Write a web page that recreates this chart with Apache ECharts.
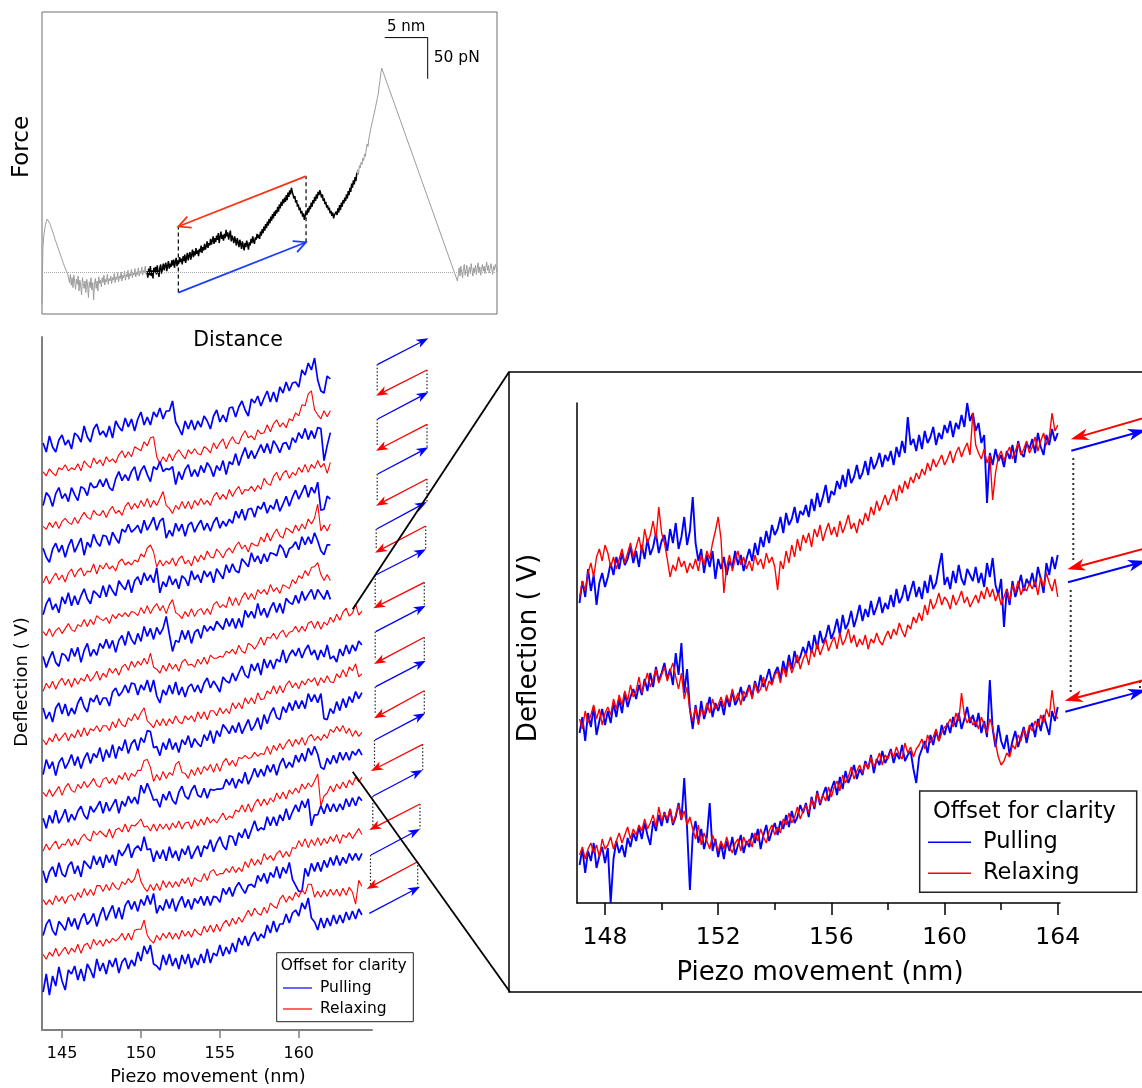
<!DOCTYPE html>
<html>
<head>
<meta charset="utf-8">
<title>Pulling and relaxing cycles</title>
<script src="https://cdn.jsdelivr.net/npm/echarts@6/dist/echarts.min.js"></script>
<style>
  html, body { margin: 0; padding: 0; background: #ffffff; }
  #chart { width: 1142px; height: 1088px; }
</style>
</head>
<body>
<div id="chart"></div>
<script>
// ---------- Force–distance overview (nm, pN) ----------
const approachStart = 0.0, approachStep = 0.1;
const forceApproach = [-38,30,44,52,58,62,65,67,63,60,57,54,51,48,45,41,38,35,32,29,26,23,20,17,14,11,8,6,3,1,-2,
  -4,-12,-2,-15,-6,-18,-3,-10,-20,-8, -14,-4,-22,-9,-16,-27,-6,-13,-19,-10, -24,-8,-15,-30,-11,-18,-6,-21,-12,-33,
  -14,-7,-19,-10,-22,-5,-13,-9,-17,-6, -12,-3,-15,-8,-11,-2,-14,-7,-10,-4, -13,-6,-9,-1,-12,-5,-8,0,-11,-4,
  -7,1,-10,-3,-6,2,-9,-2,-5,3, -8,-1,-4,4,-6,0,-3,5,-5,1, -2,6,-4,2,-1,7,-3,3,0,8,-2,2];
const unfoldStart = 12.2, unfoldStep = 0.1;
const forceUnfold = [2,-6,5,-3,8,-4,3,-7,6,0, 7,-2,9,1,-5,6,10,-1,4,11, 3,9,12,2,8,14,5,11,7,15,
  9,16,6,13,18,8,15,11,19,13, 17,10,20,14,22,12,18,24,15,21, 25,16,22,28,19,26,21,30,23,27,
  20,29,25,33,24,31,27,35,28,32, 38,30,36,33,41,34,39,44,35,42, 37,45,40,48,36,43,50,41,46,39,
  47,42,52,44,49,40,46,51,38,45, 41,36,44,39,33,42,37,31,40,35, 29,38,33,27,36,31,39,34,28,37,
  33,41,36,44,38,35,43,40,47,42, 46,41,50,45,53,48,56,51,59,54, 62,57,65,60,68,63,71,66,74,69,
  76,72,80,74,83,78,86,81,89,84, 91,86,94,88,97,92,100,95,103,98, 96,90,93,85,88,80,83,76,79,72,
  75,68,72,64,69,74,70,78,73,81, 77,85,80,88,84,92,87,95,90,98, 94,100,96,91,95,87,90,83,86,79,
  82,76,79,72,75,69,73,66,70,68, 74,70,78,73,82,76,85,80,88,84, 91,87,95,90,99,94,103,98,108,103,
  112,107,116,111,121];
const riseStart = 36.6, riseStep = 0.1;
const forceRise = [121,125,119,130,127,134,131,139,136,144, 141,150,156,153,162,164,173,174,183,184,
  192,194,202,204,212,217,227,233,242,248];
const retractStart = 48.3, retractStep = 0.1;
const forceRetract = [-10,-2,6,-4,8,0,-6,5,10,-3, 4,9,-5,2,7,-1,11,3,-4,6, 1,9,-2,5,12,0,7,-3,4,10,
  2,8,-1,6,13,3,9,0,5,11, 4,-2,8,3,10,6,1];
// cycle window (nm) and the forces at which the pulling / relaxing arrows start and end (pN)
const cycleNm = [15.85, 30.7];
const pullArrowPn = [-24, 37];
const relaxArrowPn = [117, 56];
const scaleNm = 5, scalePn = 50;
const scaleAnchor = [39.84, 285];

// ---------- Repeated cycles, offset for clarity (mV, top to bottom) ----------
const cycleStart = 143.8, cycleStep = 0.2, cycleOffset = 26.8;
const pull1 = [4,-5,11,0,-5,7,12,2,7,-2, 14,11,5,21,10,5,18,23,12,16, 10,21,9,26,20,16,29,20,28,16, 28,35,22,30,22,35,30,39,28,36, 36,46,25,19,12,26,18,27,17,26, 20,31,26,18,31,37,25,32,25,39, 40,30,40,46,37,31,48,44,51,41, 49,56,45,55,45,60,54,65,56,64, 65,60,77,72,84,77,89,67,56,54, 71,68];
const relax1 = [2,-2,5,1,-2,6,4,9,3,6, 4,10,3,13,9,6,16,10,14,8, 17,12,15,11,19,23,16,22,17,27, 25,23,32,28,36,37,17,10,17,12, 20,13,20,24,19,15,24,20,25,20, 19,27,25,21,31,25,31,35,25,32, 37,31,30,38,43,36,38,34,44,40, 41,49,42,50,54,47,51,46,55,53, 61,58,69,68,80,83,64,59,55,63, 57,63];
const pull2 = [-5,8,4,-6,7,13,2,7,-1,13, 6,0,14,12,5,18,13,14,21,14, 22,13,10,22,29,20,26,20,29,34, 20,30,35,26,19,34,31,39,29,32, 31,34,16,29,21,31,36,24,31,24, 35,28,38,33,24,35,30,40,26,39, 36,47,35,45,53,42,50,42,49,56, 48,57,47,60,55,48,57,58,51,63, 58,68,62,72,61,70,62,73,72,40, 55,68];
const relax2 = [1,-2,5,0,6,-1,6,9,5,3, 10,4,10,15,10,8,17,13,12,17, 10,17,21,14,17,12,21,25,18,24, 19,27,21,29,20,27,22,29,36,22, 19,14,22,18,26,19,26,18,27,22, 29,23,27,22,31,35,28,33,28,38, 31,37,41,33,38,37,41,36,42,38, 49,44,42,51,55,47,54,57,49,55, 52,60,55,63,55,63,59,67,60,64, 54,65];
const pull3 = [6,-3,-8,5,11,2,9,-3,8,15, 2,9,16,-1,12,7,20,12,8,19, 18,9,22,16,11,25,22,30,22,25, 29,21,34,24,30,37,24,33,36,16, 24,18,31,23,30,18,29,32,22,29, 34,24,31,23,32,37,26,33,28,35, 31,43,36,45,34,45,46,37,48,45, 52,41,49,45,55,43,50,58,48,57, 64,55,62,69,57,67,61,72,44,45, 58,55];
const relax3 = [-2,5,-3,3,8,1,6,-1,8,12, 4,10,13,5,10,9,17,7,16,12, 18,12,15,10,19,22,16,19,16,21, 19,27,24,33,36,29,14,21,15,20, 17,23,15,22,25,17,21,15,25,19, 26,21,30,24,23,32,28,23,30,33, 28,35,39,32,36,29,38,36,35,44, 39,48,40,47,52,45,43,53,51,48, 56,50,57,52,62,57,63,77,50,56, 50,57];
const pull4 = [-7,4,10,-2,4,-5,11,4,15,2, 12,3,12,19,9,4,17,14,10,22, 11,23,17,12,27,22,18,28,15,27, 31,23,35,27,33,25,40,15,26,21, 32,23,29,19,32,29,22,37,28,33, 25,37,31,36,25,39,34,29,43,35, 44,37,35,49,45,41,55,46,52,44, 54,46,55,54,52,63,59,50,59,61, 66,58,71,63,71,64,75,67,57,53, 63,63];
const relax4 = [3,-1,6,-2,4,7,1,6,11,5, 3,10,8,15,8,15,10,19,16,14, 17,11,20,16,21,18,22,18,23,22, 19,27,21,29,21,27,31,24,29,21, 30,35,22,20,16,23,18,26,18,24, 26,20,26,20,30,33,27,30,27,38, 29,37,29,37,42,35,41,35,45,41, 45,40,50,43,47,41,50,48,46,55, 51,59,56,64,59,67,68,72,60,54, 60,54];
const pull5 = [5,-6,3,10,-1,-5,8,6,0,13, 5,14,-1,11,18,5,12,6,18,13, 22,13,21,9,21,26,16,30,22,17, 28,20,35,25,33,22,34,27,33,45, 27,10,21,19,31,22,31,18,29,32, 23,36,30,35,31,40,36,32,43,35, 43,33,43,34,51,44,50,43,58,46, 53,44,53,59,49,58,48,63,59,57, 66,58,70,61,67,72,62,72,67,62, 71,62];
const relax5 = [-3,5,0,7,-1,6,10,3,9,1, 10,4,10,7,14,7,11,17,8,15, 11,20,15,20,13,21,24,18,27,21, 27,23,30,24,35,21,19,15,23,17, 25,19,24,17,26,29,23,24,21,29, 24,31,24,33,30,30,32,31,37,35, 39,34,43,37,35,45,43,39,44,51, 43,51,50,55,49,55,58,51,56,57, 62,56,62,57,65,67,60,67,59,66, 63,71,66,74,68,76,80,72,75,84, 73,77];
const pull6 = [7,-4,3,-7,7,12,1,11,-1,7, 1,12,18,8,3,17,13,20,10,17, 17,9,23,27,19,23,30,22,32,31, 20,30,25,35,23,35,19,12,25,20, 30,21,33,20,28,18,28,31,23,30, 22,32,37,27,34,29,23,38,34,32, 42,34,42,49,40,37,51,44,52,40, 56,47,55,46,56,53,65,52,60,65, 59,67,57,65,70,60,65,55,65,58, 70,56,59,53,66,59,70,61,70,64, 74,70];
const relax6 = [2,-3,4,0,8,1,5,9,1,8, 4,12,5,14,6,13,11,16,10,16, 16,11,20,14,23,17,15,24,21,28, 22,29,34,21,18,14,22,16,23,16, 23,18,26,20,18,26,22,26,20,30, 23,30,22,31,31,26,34,28,33,28, 39,33,39,33,44,38,44,38,49,42, 43,51,48,56,48,56,49,57,61,54, 59,53,61,57,63,60,64,56,64,59, 66,60,59,68,64,72,65,75,71,78, 65,68];
const pull7 = [-6,9,0,7,-7,6,11,0,6,14, 3,12,0,10,16,5,15,11,21,7, 19,11,24,10,22,18,29,15,25,29, 18,31,26,38,37,21,22,13,26,19, 30,19,26,16,29,24,33,21,30,25, 22,34,28,38,25,38,32,44,40,35, 43,36,46,35,42,49,38,43,51,39, 54,45,55,61,51,49,62,56,66,58, 68,60,68,60,75,67,74,66,75,50, 49,60,55,67,58,70,61,72,66,77, 70,76];
const relax7 = [3,-1,6,-1,4,9,0,8,12,5, 3,11,7,14,8,12,17,10,8,16, 18,12,17,11,20,16,23,15,22,19, 25,25,35,36,28,14,21,15,24,17, 23,20,31,34,23,22,17,26,20,28, 21,29,25,31,23,32,24,33,37,30, 35,29,38,37,40,37,38,43,39,42, 41,49,41,50,45,52,46,52,56,49, 56,51,58,50,58,61,55,59,55,61, 57,66,63,69,64,70,62,67,59,65, 59,63];
const pull8 = [4,-6,7,-1,12,-1,5,13,0,8, 2,11,16,7,3,16,10,15,21,9, 20,11,17,23,9,21,16,26,19,25, 18,37,29,39,31,22,23,15,28,22, 31,22,18,30,36,26,23,32,37,27, 25,34,24,33,32,33,33,34,43,37, 44,34,43,39,50,38,45,54,45,53, 46,57,50,58,47,58,64,54,60,55, 67,60,69,61,74,67,76,68,55,53, 64,58,67,59,70,62,70,62,71,67, 73,67];
const relax8 = [-2,5,-1,4,8,0,5,4,10,3, 10,4,11,15,10,8,18,14,18,15, 12,20,11,19,21,17,25,17,24,23, 26,30,22,23,18,25,18,25,20,25, 19,26,21,28,20,26,27,20,29,23, 30,24,32,26,30,26,31,36,29,33, 31,39,37,44,37,45,37,45,50,43, 50,44,51,47,56,50,57,50,59,55, 61,56,65,60,66,62,68,75,43,53, 56,63,57,65,60,67,61,69,64,72, 67,72];
const pull9 = [5,-7,4,9,-1,13,2,-1,10,14, 2,10,-1,15,11,7,20,11,19,8, 21,13,21,10,26,20,25,32,18,27, 30,25,39,26,27,14,25,17,26,15, 29,18,25,15,27,21,30,17,24,30, 19,30,27,36,24,33,39,30,26,40, 39,30,43,38,47,37,46,55,45,48, 46,59,50,59,50,61,55,67,56,64, 71,64,75,68,77,50,61,61,70,62, 72,64,72,64,72,66,77,69,78,70, 79,75];
const relax9 = [3,-2,3,-2,7,1,6,-1,6,8, 2,10,5,14,7,13,7,17,17,11, 18,12,20,15,13,21,18,24,20,24, 34,21,15,11,18,12,19,12,22,15, 21,15,21,16,24,19,25,16,25,22, 21,29,22,31,33,27,29,29,34,30, 36,30,35,31,41,35,44,37,43,38, 49,43,47,42,49,52,45,51,46,55, 54,62,56,64,55,63,57,65,57,64, 59,66,61,68,59,68,65,70,64,69, 74,68];
const pull10 = [-6,5,10,-1,-6,8,4,-1,12,3, 11,0,10,16,5,9,16,3,14,22, 9,17,24,11,22,10,24,29,20,28, 18,30,24,34,25,36,16,24,19,30, 21,31,18,27,33,22,30,20,31,26, 33,24,33,24,33,32,27,41,35,42, 33,42,47,41,36,44,45,42,54,48, 56,46,57,52,63,51,62,56,67,50, 44,38,38,61,53,66,58,67,58,69, 62,72,64,74,64,72,66,76,69,76, 69,76];
const relax10 = [2,-3,4,0,8,0,5,9,2,8, 4,12,3,11,13,7,17,11,16,10, 17,13,18,15,18,23,16,23,16,26, 27,27,36,21,16,13,21,16,23,18, 24,17,23,17,26,20,25,19,27,23, 21,30,24,31,24,32,25,32,36,30, 38,32,39,34,40,46,40,48,43,41, 49,43,53,50,48,57,61,54,60,56, 64,59,67,62,72,72,59,65,59,66, 60,67,61,67,60,68,61,69,64,52, 76,70];
const pull11 = [-9,9,-12,7,-3,16,2,-7,13,9, 17,3,14,2,19,13,5,24,12,20, 9,23,16,25,10,21,25,14,23,17, 31,22,37,29,38,19,17,13,28,18, 29,17,25,14,28,19,29,15,25,18, 29,20,34,20,30,27,38,27,36,29, 40,31,45,38,47,37,46,51,42,49, 45,58,50,62,51,59,59,69,60,70, 73,67,80,74,85,65,61,53,65,55, 65,57,68,59,68,60,71,63,72,64, 74,68];
const cycleTicks = [145, 150, 155, 160];

// ---------- Three cycles, enlarged (mV, offset for clarity) ----------
const zoomStart = 147.1, zoomStep = 0.1, zoomOffset = 140;
const zoomPullTop = [-30,-8,-24,4,-18,-2,-32,-10,0,-14, -4,10,-2,16,4,20,8,14,26,10, 22,6,28,14,34,18,26,40,20,32, 38,22,44,30,50,24,36,56,28,42, 76,30,12,24,0,18,6,22,-6,14, 4,16,-2,12,6,22,8,18,2,14, 24,12,30,18,36,26,42,30,48,38, 44,56,40,60,48,54,66,50,62,58, 68,56,74,62,80,66,76,88,70,82, 78,92,84,98,86,104,90,96,108,94, 100,112,98,116,104,110,120,106,118,112, 122,108,126,116,132,120,156,128,134,122, 138,124,142,130,136,146,128,140,134,148, 140,152,136,150,144,158,146,170,152,160, 142,150,130,138,70,120,108,124,112,118, 106,122,114,128,110,132,120,116,130,124, 134,120,140,126,118,138,128,144,132,140];
const zoomRelaxTop = [-24,-8,-18,0,10,-4,16,24,12,28, 20,6,16,4,14,24,10,20,30,16, 26,36,20,44,30,38,52,34,66,40, 30,14,-4,8,2,16,6,12,0,10, 4,14,2,18,8,22,14,30,42,56, 34,-20,6,18,2,14,22,8,16,4, 12,2,18,8,14,4,20,10,16,6, -17,12,4,22,10,28,16,34,22,38, 30,40,26,44,36,48,32,42,50,38, 46,36,52,40,48,58,44,50,40,54, 48,60,52,66,58,72,62,70,78,68, 76,84,72,88,80,92,84,96,90,100, 94,104,98,110,102,114,106,112,118,108, 114,122,110,120,126,116,124,130,118,160, 128,120,114,124,110,118,73,100,116,122, 112,120,126,114,122,130,118,124,132,120, 126,136,122,132,140,128,136,160,142,148];
const zoomPullMid = [-20,-4,-28,0,-14,6,-22,-8,4,-12, 2,-10,10,-4,14,0,20,6,16,24, 14,28,18,34,22,40,26,46,32,40, 50,34,44,28,60,38,70,20,44,4, -16,8,-10,12,-6,4,16,-4,10,2, 12,-2,16,6,22,8,14,26,12,20, 28,16,32,22,38,26,34,44,30,40, 46,34,52,40,58,44,62,50,56,66, 58,72,60,78,64,82,70,76,88,74, 82,94,78,98,84,90,102,86,96,108, 92,104,96,112,98,106,116,100,110,104, 118,106,124,110,116,128,112,122,132,116, 126,114,132,120,138,124,130,146,160,128, 136,124,142,130,148,134,128,144,138,132, 146,130,140,126,150,136,155,128,118,134, 86,124,108,132,116,126,138,122,134,128, 140,126,146,134,120,150,138,156,144,158];
const zoomRelaxMid = [-6,-16,2,-10,-2,8,-6,4,-12,0, 6,-2,14,4,18,8,22,12,28,16, 22,36,20,30,40,26,34,44,30,38, 46,32,42,50,36,24,40,14,26,2, -8,6,-12,4,-2,10,0,14,4,8, 16,6,18,10,24,12,20,8,22,16, 26,14,30,20,24,36,22,32,28,38, 42,30,46,36,52,40,48,58,44,54, 60,48,64,56,70,58,66,74,62,70, 76,64,80,68,74,84,70,78,66,74, 68,78,64,74,70,80,72,68,76,82, 74,84,78,90,82,76,88,84,96,90, 100,92,108,98,114,104,110,120,108,116, 112,104,118,108,114,122,110,116,106,112, 118,110,122,114,126,116,124,112,120,108, 116,124,112,128,120,132,118,126,122,130, 124,132,118,136,126,140,130,122,134,116];
const zoomPullLow = [-12,4,-20,2,-8,10,-15,-3,6,-10, 5,-50,-6,12,0,8,-4,15,6,20, 12,26,14,30,18,8,32,22,38,27, 41,30,44,28,36,50,33,75,25,-37, 18,32,10,24,4,16,50,2,14,-4, 10,-6,12,2,16,-2,8,18,0,12, 6,20,10,24,4,18,28,12,22,30, 18,32,24,38,26,42,30,36,48,40, 50,36,56,44,62,48,58,66,52,64, 72,58,76,64,82,70,78,88,74,84, 78,92,84,98,80,94,88,102,90,96, 104,90,100,94,108,92,98,102,84,70, 96,104,112,100,118,108,122,112,128,118, 130,120,136,126,140,124,134,146,130,138, 126,140,120,132,116,173,124,106,128,112, 104,118,98,112,122,106,116,126,110,124, 130,116,134,122,138,128,118,142,132,146];
const zoomRelaxLow = [-2,6,-6,4,10,0,8,-4,14,4, 8,16,4,12,20,10,18,26,14,24, 18,28,22,34,24,30,38,26,46,32, 40,34,44,30,38,48,34,42,28,36, 24,14,28,8,20,12,4,18,10,2, 12,4,16,6,0,10,14,2,16,8, 14,6,20,12,24,16,10,22,28,18, 26,20,34,28,40,30,36,46,34,42, 48,40,54,46,60,50,58,52,66,56, 66,72,62,78,70,76,86,74,82,88, 80,90,84,96,86,92,100,88,98,94, 102,96,106,98,94,110,100,106,96,104, 108,114,104,118,110,116,124,112,120,126, 128,134,126,140,132,160,138,130,136,128, 132,124,136,128,120,134,126,110,96,88, 92,100,96,108,104,118,112,124,116,128, 122,132,126,138,130,144,136,163,140,134];
const zoomMajorTicks = [148, 152, 156, 160, 164];
const zoomMinorTicks = [150, 154, 158, 162];

// ---------- Styling and layout ----------
const FONT = 'DejaVu Sans';
const BLUE = '#0000ff', RED = '#ff0000';

const chart = echarts.init(document.getElementById('chart'), null, { renderer: 'canvas' });

const gridCommon = { containLabel: false, outerBoundsMode: 'none' };
const series = [];

const xyFrom = (start, step, vals, add) => vals.map((v, i) => [+(start + i * step).toFixed(3), v + (add || 0)]);

// overview trace: approach (gray), stretch and retract (gray), unfolding region (black)
series.push({
  type: 'line', xAxisIndex: 0, yAxisIndex: 0, symbol: 'none', silent: true,
  data: xyFrom(approachStart, approachStep, forceApproach),
  lineStyle: { color: '#9c9c9c', width: 1 },
  markLine: {
    silent: true, symbol: 'none', label: { show: false },
    lineStyle: { color: '#a8a8a8', width: 1, type: 'dotted' },
    data: [{ yAxis: 0 }]
  }
});
series.push({
  type: 'line', xAxisIndex: 0, yAxisIndex: 0, symbol: 'none', silent: true,
  data: xyFrom(riseStart, riseStep, forceRise).concat(xyFrom(retractStart, retractStep, forceRetract)),
  lineStyle: { color: '#9c9c9c', width: 1 }
});
series.push({
  type: 'line', xAxisIndex: 0, yAxisIndex: 0, symbol: 'none', silent: true,
  data: xyFrom(unfoldStart, unfoldStep, forceUnfold),
  lineStyle: { color: '#000000', width: 1.5 }
});

// stacked cycles, listed top to bottom
const cycleTraces = [
  ['Pulling', pull1], ['Relaxing', relax1], ['Pulling', pull2], ['Relaxing', relax2],
  ['Pulling', pull3], ['Relaxing', relax3], ['Pulling', pull4], ['Relaxing', relax4],
  ['Pulling', pull5], ['Relaxing', relax5], ['Pulling', pull6], ['Relaxing', relax6],
  ['Pulling', pull7], ['Relaxing', relax7], ['Pulling', pull8], ['Relaxing', relax8],
  ['Pulling', pull9], ['Relaxing', relax9], ['Pulling', pull10], ['Relaxing', relax10],
  ['Pulling', pull11]
];
cycleTraces.forEach(([kind, vals], idx) => {
  const level = cycleTraces.length - 1 - idx;
  const pulling = kind === 'Pulling';
  series.push({
    name: kind, type: 'line', xAxisIndex: 1, yAxisIndex: 1, symbol: 'none', silent: true,
    data: xyFrom(cycleStart, cycleStep, vals, level * cycleOffset),
    lineStyle: { color: pulling ? BLUE : RED, width: pulling ? 1.7 : 1.1 }
  });
});

// enlarged cycles (pulling drawn first, relaxing over it)
[[zoomPullTop, zoomRelaxTop, 2], [zoomPullMid, zoomRelaxMid, 1], [zoomPullLow, zoomRelaxLow, 0]].forEach(([p, r, lvl]) => {
  series.push({
    name: 'Pulling', type: 'line', xAxisIndex: 2, yAxisIndex: 2, symbol: 'none', silent: true,
    data: xyFrom(zoomStart, zoomStep, p, lvl * zoomOffset),
    lineStyle: { color: BLUE, width: 1.9 }
  });
  series.push({
    name: 'Relaxing', type: 'line', xAxisIndex: 2, yAxisIndex: 2, symbol: 'none', silent: true,
    data: xyFrom(zoomStart, zoomStep, r, lvl * zoomOffset),
    lineStyle: { color: RED, width: 1.4 }
  });
});

const option = {
  animation: false,
  backgroundColor: '#ffffff',
  textStyle: { fontFamily: FONT },
  grid: [
    Object.assign({ left: 42, top: 12, width: 455, height: 302, show: true, borderColor: '#6e6e6e', borderWidth: 1 }, gridCommon),
    Object.assign({ left: 42, top: 337, width: 330, height: 693 }, gridCommon),
    Object.assign({ left: 577, top: 403, width: 483, height: 500 }, gridCommon)
  ],
  xAxis: [
    { gridIndex: 0, type: 'value', min: 0, max: 52.9, show: false },
    {
      gridIndex: 1, type: 'value', position: 'bottom', min: 143.73, max: 164.64,
      axisLine: { show: true, onZero: false, lineStyle: { color: '#808080', width: 2 } },
      axisTick: { show: true, customValues: cycleTicks, length: 8, lineStyle: { color: '#808080', width: 1.5 } },
      axisLabel: { customValues: cycleTicks, color: '#000', fontSize: 16, fontFamily: FONT, margin: 16 },
      splitLine: { show: false }
    },
    {
      gridIndex: 2, type: 'value', position: 'bottom', min: 147.01, max: 164.08,
      axisLine: { show: true, onZero: false, lineStyle: { color: '#000', width: 1.5 } },
      axisTick: { show: true, customValues: zoomMajorTicks, length: 12, lineStyle: { color: '#000', width: 1.5 } },
      axisLabel: { customValues: zoomMajorTicks, color: '#000', fontSize: 23.5, fontFamily: FONT, margin: 23 },
      splitLine: { show: false }
    },
    {
      gridIndex: 2, type: 'value', position: 'bottom', offset: 0, min: 147.01, max: 164.08,
      axisLine: { show: false, onZero: false },
      axisTick: { show: true, customValues: zoomMinorTicks, length: 7, lineStyle: { color: '#000', width: 1.5 } },
      axisLabel: { show: false },
      splitLine: { show: false }
    }
  ],
  yAxis: [
    { gridIndex: 0, type: 'value', min: -50, max: 316, show: false },
    {
      gridIndex: 1, type: 'value', min: -47, max: 646,
      axisLine: { show: true, onZero: false, lineStyle: { color: '#808080', width: 2 } },
      axisTick: { show: false }, axisLabel: { show: false }, splitLine: { show: false }
    },
    {
      gridIndex: 2, type: 'value', min: -50, max: 450,
      axisLine: { show: true, onZero: false, lineStyle: { color: '#000', width: 1.5 } },
      axisTick: { show: false }, axisLabel: { show: false }, splitLine: { show: false }
    }
  ],
  series: series
};
chart.setOption(option);

// ---------- Annotations ----------
const els = [];
function seg(x1, y1, x2, y2, color, w, dash) {
  return { type: 'line', z: 100, silent: true, shape: { x1, y1, x2, y2 },
    style: { stroke: color, lineWidth: w, lineDash: dash || null } };
}
function arrow(x1, y1, x2, y2, color, o) {
  const dx = x2 - x1, dy = y2 - y1, L = Math.hypot(dx, dy), ux = dx / L, uy = dy / L;
  const bx = x2 - ux * o.len, by = y2 - uy * o.len;
  const lx = bx - uy * o.half, ly = by + ux * o.half, rx = bx + uy * o.half, ry = by - ux * o.half;
  if (o.open) {
    return [seg(x1, y1, x2, y2, color, o.w),
      { type: 'polyline', z: 100, silent: true, shape: { points: [[lx, ly], [x2, y2], [rx, ry]] },
        style: { stroke: color, lineWidth: o.w, fill: null } }];
  }
  const nx = x2 - ux * o.len * 0.72, ny = y2 - uy * o.len * 0.72;
  return [seg(x1, y1, nx, ny, color, o.w),
    { type: 'polygon', z: 100, silent: true, shape: { points: [[x2, y2], [lx, ly], [nx, ny], [rx, ry]] },
      style: { fill: color } }];
}
function label(x, y, s, size, align, rot) {
  return { type: 'text', z: 100, silent: true, x, y, rotation: rot || 0,
    style: { text: s, font: size + 'px "' + FONT + '"', fill: '#000',
      align: align || 'center', verticalAlign: 'middle',
      textAlign: align || 'center', textVerticalAlign: 'middle' } };
}
const P = (x, y) => chart.convertToPixel({ xAxisIndex: 0, yAxisIndex: 0 }, [x, y]);

// cycle window on the overview trace
const lowA = P(cycleNm[0], pullArrowPn[0]), lowB = P(cycleNm[0], relaxArrowPn[1]);
const highA = P(cycleNm[1], pullArrowPn[1]), highB = P(cycleNm[1], relaxArrowPn[0]);
els.push(seg(lowA[0], lowA[1], lowB[0], lowB[1], '#000', 1.2, [4, 3]));
els.push(seg(highA[0], highA[1], highB[0], highB[1], '#000', 1.2, [4, 3]));
els.push(...arrow(highB[0], highB[1], lowB[0], lowB[1], '#ff3216', { len: 12, half: 6, w: 1.8, open: true }));
els.push(...arrow(lowA[0], lowA[1], highA[0], highA[1], '#1c3cff', { len: 12, half: 6, w: 1.8, open: true }));

// scale bars
const sb0 = P(scaleAnchor[0], scaleAnchor[1]);
const sb1 = P(scaleAnchor[0] + scaleNm, scaleAnchor[1]);
const sb2 = P(scaleAnchor[0] + scaleNm, scaleAnchor[1] - scalePn);
els.push(seg(sb0[0], sb0[1], sb1[0], sb1[1], '#000', 1));
els.push(seg(sb1[0], sb1[1], sb2[0], sb2[1], '#000', 1));
els.push(label((sb0[0] + sb1[0]) / 2, sb0[1] - 10, scaleNm + ' nm', 15, 'center'));
els.push(label(sb1[0] + 6, (sb1[1] + sb2[1]) / 2, scalePn + ' pN', 15.5, 'left'));

// titles
els.push(label(22, 147, 'Force', 23, 'center', Math.PI / 2));
els.push(label(238, 341, 'Distance', 20.5, 'center'));
els.push(label(22, 682, 'Deflection ( V)', 18, 'center', Math.PI / 2));
els.push(label(208, 1077, 'Piezo movement (nm)', 17.7, 'center'));
els.push(label(529, 648, 'Deflection ( V)', 26.2, 'center', Math.PI / 2));
els.push(label(820, 973, 'Piezo movement (nm)', 26, 'center'));

// pulling / relaxing sequence beside the stacked cycles
const pullCol = [
  [377.7, 364.3, 428.3, 338.3], [377.7, 419, 428.3, 392.3], [377.7, 474, 428.3, 447.3],
  [376.7, 529, 426.7, 502], [375.7, 575, 426, 549.3], [375.7, 631.7, 425.7, 605.7],
  [375.7, 686.7, 425.7, 660.7], [375, 740, 425.3, 713.3], [373.3, 796, 422.7, 770],
  [371, 855, 420, 829], [369.3, 913.3, 420, 886.7]
];
const relaxCol = [
  [427, 370, 376, 395.7], [427, 424.3, 376, 450.7], [427, 479, 376, 505.7],
  [425.7, 526, 375, 552.7], [424.3, 582.3, 373.3, 608.3], [424.3, 637.3, 374, 664],
  [424.3, 690.7, 374, 718.3], [422.7, 744.3, 371, 771], [420, 804, 369.3, 830],
  [417.7, 861.7, 366.7, 889]
];
relaxCol.forEach((r, i) => {
  const b = pullCol[i], nb = pullCol[i + 1];
  els.push(seg(b[0] - 0.5, b[1], b[0] - 0.5, r[3] - 4, '#222', 1.2, [1.5, 2]));
  els.push(seg(r[0], r[1], r[0], nb[3], '#222', 1.2, [1.5, 2]));
});
pullCol.forEach(b => els.push(...arrow(b[0], b[1], b[2], b[3], BLUE, { len: 12, half: 4.5, w: 1.3 })));
relaxCol.forEach(r => els.push(...arrow(r[0], r[1], r[2], r[3], RED, { len: 12, half: 4.5, w: 1.3 })));

// enlarged-view frame and leader lines
els.push({ type: 'rect', z: 99, silent: true, shape: { x: 509, y: 372, width: 660, height: 620 },
  style: { stroke: '#000', lineWidth: 1.5, fill: null } });
els.push(seg(352.7, 609.3, 509, 372, '#000', 1.8));
els.push(seg(352.7, 771.7, 510, 992, '#000', 1.8));

// arrows beside the enlarged cycles
const zoomRelaxArrows = [[1152, 415.5, 1070.7, 439.3], [1152, 546.5, 1067.3, 569.3], [1152, 678, 1064.7, 700.7]];
const zoomPullArrows = [[1071.3, 450.7, 1146, 430], [1068, 582.3, 1146, 561], [1065.3, 711.7, 1146, 690]];
const zoomDots = [[1073.3, 458, 561.7], [1070.7, 590, 695], [1140, 681, 693]];
zoomDots.forEach(d => els.push(seg(d[0], d[1], d[0], d[2], '#333', 2, [2, 3])));
zoomRelaxArrows.forEach(a => els.push(...arrow(a[0], a[1], a[2], a[3], RED, { len: 18, half: 6, w: 2 })));
zoomPullArrows.forEach(a => els.push(...arrow(a[0], a[1], a[2], a[3], BLUE, { len: 18, half: 6, w: 2 })));

// legends
function legendBox(x, y, w, h, lw, size, titleX, lineX0, lineX1, textX, rows) {
  els.push({ type: 'rect', z: 110, silent: true, shape: { x, y, width: w, height: h },
    style: { stroke: '#222', lineWidth: lw, fill: '#fff' } });
  rows.forEach(r => {
    if (r.color) els.push(Object.assign(seg(lineX0, r.y, lineX1, r.y, r.color, r.w), { z: 111 }));
    els.push(Object.assign(label(r.color ? textX : titleX, r.y, r.text, size, 'left'), { z: 111 }));
  });
}
legendBox(276.7, 952.7, 136.6, 69, 1, 15.5, 280.7, 283, 312, 320, [
  { text: 'Offset for clarity', y: 966 },
  { text: 'Pulling', y: 988, color: BLUE, w: 1.2 },
  { text: 'Relaxing', y: 1009, color: RED, w: 1.2 }
]);
legendBox(919.7, 791, 217, 101.3, 1.5, 22.5, 933, 928, 971, 983, [
  { text: 'Offset for clarity', y: 811.7 },
  { text: 'Pulling', y: 842.3, color: BLUE, w: 1.5 },
  { text: 'Relaxing', y: 873.3, color: RED, w: 1.5 }
]);

chart.setOption({ graphic: { elements: els } });
</script>
</body>
</html>
